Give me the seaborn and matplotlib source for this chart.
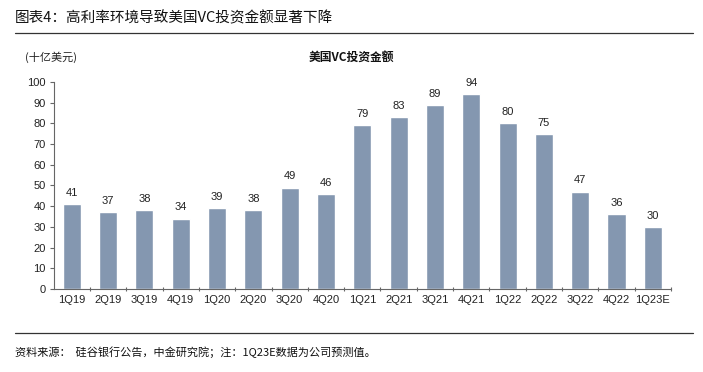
import matplotlib
matplotlib.use("Agg")
import matplotlib.pyplot as plt
import seaborn as sns
import pandas as pd
import numpy as np

quarters = ["1Q19", "2Q19", "3Q19", "4Q19", "1Q20", "2Q20", "3Q20", "4Q20",
            "1Q21", "2Q21", "3Q21", "4Q21", "1Q22", "2Q22", "3Q22", "4Q22", "1Q23E"]
values = [41, 37, 38, 34, 39, 38, 49, 46, 79, 83, 89, 94, 80, 75, 47, 36, 30]
yticks = [0, 10, 20, 30, 40, 50, 60, 70, 80, 90, 100]

sns.set_theme(style="white")
plt.rcParams['font.family'] = ['Liberation Sans', 'Noto Sans CJK SC', 'DejaVu Sans']
cjk = ['Noto Sans CJK SC', 'Liberation Sans', 'DejaVu Sans']

df = pd.DataFrame({"q": quarters, "v": values})

fig = plt.figure(figsize=(7.03, 3.72), dpi=100)
ax = fig.add_axes([0.0768, 0.2231, 0.8777, 0.5565])
sns.barplot(data=df, x="q", y="v", color="#8497B0", width=0.5, ax=ax, saturation=1)

ax.set_ylim(0, 100)
ax.set_xlim(-0.49, len(quarters) - 0.5)
ax.set_yticks(yticks)
ax.set_yticklabels([str(t) for t in yticks], fontsize=8, color="#222222")
ax.set_xticks(range(len(quarters)))
ax.set_xticklabels(quarters, fontsize=8, color="#222222")
ax.set_xlabel("")
ax.set_ylabel("")
for s in ["top", "right"]:
    ax.spines[s].set_visible(False)
for s in ["left", "bottom"]:
    ax.spines[s].set_color("#666666")
    ax.spines[s].set_linewidth(0.8)
ax.tick_params(axis="y", length=3, width=0.8, color="#666666", direction="out", left=True, pad=3)
ax.tick_params(axis="x", length=0, pad=4)
# minor ticks at category boundaries
ax.set_xticks(np.arange(0.5, len(quarters), 1.0), minor=True)
ax.tick_params(axis="x", which="minor", length=3, width=0.8, color="#666666", direction="inout", bottom=True)

for i, v in enumerate(values):
    ax.text(i, v + 3, str(v), ha="center", va="bottom", fontsize=8, color="#222222")

# header
fig.text(0.021, 0.952, "图表4：高利率环境导致美国VC投资金额显著下降", fontsize=10.5,
         family=cjk, color="#111111", ha="left", va="center")
fig.add_artist(plt.Line2D([0.021, 0.986], [0.912, 0.912], color="#333333", linewidth=0.9,
                          transform=fig.transFigure))
fig.text(0.035, 0.845, "(十亿美元)", fontsize=8, family=cjk, color="#222222", ha="left", va="center")
fig.text(0.5, 0.845, "美国VC投资金额", fontsize=8.5, family=cjk, fontweight="bold",
         color="#111111", ha="center", va="center")

fig.add_artist(plt.Line2D([0.021, 0.986], [0.105, 0.105], color="#333333", linewidth=0.9,
                          transform=fig.transFigure))
fig.text(0.021, 0.053, "资料来源：  硅谷银行公告，中金研究院；注：1Q23E数据为公司预测值。", fontsize=8,
         family=cjk, color="#111111", ha="left", va="center")

fig.savefig("out.png", dpi=100, facecolor="white")
